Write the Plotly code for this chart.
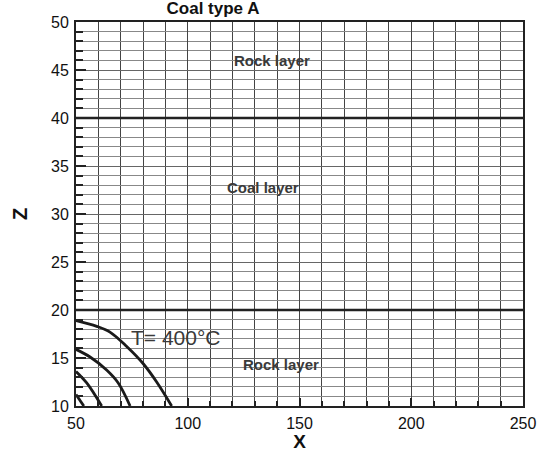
import plotly.graph_objects as go

# Temperature contour lines (x, z)
c1_x = [50, 59.3, 65.2, 72.7, 80.1, 86.1, 92.8]
c1_z = [18.9, 18.3, 17.7, 16.2, 14.4, 12.5, 10.0]
c2_x = [50, 56.3, 63.7, 68.9, 74.2]
c2_z = [15.9, 15.1, 13.75, 12.4, 10.0]
c3_x = [50, 54.8, 61.5]
c3_z = [13.6, 12.4, 10.0]
c4_x = [50, 53.5]
c4_z = [11.2, 10.0]

layer_bounds = [20, 40]
labels = ["Rock layer", "Coal layer", "Rock layer", "T= 400°C"]
label_x = [137.7, 133.7, 141.7, 94.7]
label_z = [46.0, 32.8, 14.3, 17.1]

x_ticks = [50, 100, 150, 200, 250]
z_ticks = [10, 15, 20, 25, 30, 35, 40, 45, 50]

FONT = "Liberation Sans, Arial, sans-serif"
fig = go.Figure()

for xs, zs in [(c1_x, c1_z), (c2_x, c2_z), (c3_x, c3_z), (c4_x, c4_z)]:
    fig.add_trace(go.Scatter(x=xs, y=zs, mode="lines", line=dict(color="#1a1a1a", width=2.8, shape="spline"),
                             showlegend=False, hoverinfo="skip"))

for zb in layer_bounds:
    fig.add_shape(type="line", xref="paper", x0=0, x1=1, yref="y", y0=zb, y1=zb,
                  line=dict(color="#222", width=2.5))

for t, xv, zv in zip(labels, label_x, label_z):
    big = t.startswith("T")
    fig.add_annotation(x=xv, y=zv, text=t if big else "<b>" + t + "</b>", showarrow=False,
                       font=dict(family=FONT, size=21 if big else 15, color="#3a3a3a"),
                       bgcolor="rgba(0,0,0,0)")

fig.update_layout(
    width=538, height=452,
    margin=dict(l=76, r=15, t=22, b=46),
    paper_bgcolor="white", plot_bgcolor="white",
    font=dict(family=FONT, color="#111"),
    title=dict(text="<b>Coal type A</b>", x=213/538, xanchor="center", xref="container",
               y=1.0, yanchor="top", yref="container", pad=dict(t=2, b=0),
               font=dict(size=17, family=FONT, color="#111")),
)
fig.update_xaxes(
    range=[50, 250], tickvals=x_ticks, ticks="inside", ticklen=8, tickwidth=1.5, tickcolor="#222",
    showgrid=True, gridcolor="#444", gridwidth=1, ticklabeloverflow="allow", ticklabelstandoff=2,
    minor=dict(dtick=10, showgrid=True, gridcolor="#444", gridwidth=1, ticks="inside", ticklen=5, tickcolor="#222"),
    showline=True, linecolor="#222", linewidth=2, mirror=True, automargin=False,
    tickfont=dict(size=16, family=FONT), zeroline=False,
    title=dict(text="<b>X</b>", font=dict(size=19, family=FONT), standoff=3),
)
fig.update_yaxes(
    range=[10, 50], tickvals=z_ticks, ticks="inside", ticklen=10, tickwidth=1.5, tickcolor="#222",
    showgrid=True, gridcolor="#666", gridwidth=1, ticklabelstandoff=2, automargin=False,
    minor=dict(dtick=1, showgrid=True, gridcolor="#888", gridwidth=1, ticks="inside", ticklen=7, tickcolor="#222"),
    showline=True, linecolor="#222", linewidth=2, mirror=True,
    tickfont=dict(size=16, family=FONT), zeroline=False,
    title=dict(text="<b>Z</b>", font=dict(size=20, family=FONT), standoff=18),
)

fig.write_html("out.html", config={"displayModeBar": False},
               post_script="document.body.style.margin='0';document.body.style.overflow='hidden';")
